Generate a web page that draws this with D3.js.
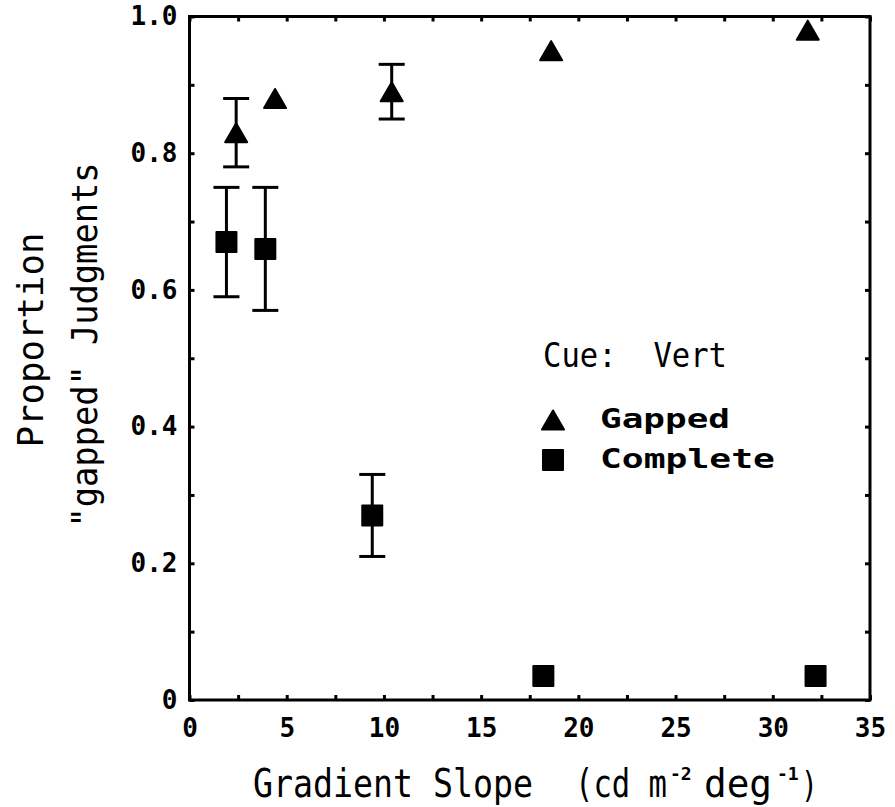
<!DOCTYPE html>
<html>
<head>
<meta charset="utf-8">
<script src="https://cdn.jsdelivr.net/npm/d3@7"></script>
<style>
  html, body { margin: 0; padding: 0; background: #fff; }
  svg { display: block; }
</style>
</head>
<body>
<svg id="chart" width="895" height="807"></svg>
<script>
// ---- data ----
const gappedX  = [2.4, 4.4, 10.4, 18.6, 31.8];
const gappedY  = [0.83, 0.88, 0.89, 0.95, 0.98];
const gappedLo = [0.78, null, 0.85, null, null];
const gappedHi = [0.88, null, 0.93, null, null];

const completeX  = [1.9, 3.9, 9.4, 18.2, 32.2];
const completeY  = [0.67, 0.66, 0.27, 0.035, 0.035];
const completeLo = [0.59, 0.57, 0.21, null, null];
const completeHi = [0.75, 0.75, 0.33, null, null];

const xTickLabels = [0, 5, 10, 15, 20, 25, 30, 35];
const yTickLabels = [0, 0.2, 0.4, 0.6, 0.8, 1.0];
const xMinorTicks = d3.range(0, 35.01, 2.5);
const yMinorTicks = d3.range(0, 1.001, 0.1);

const legendTitle = "Cue:  Vert";
const seriesNames = ["Gapped", "Complete"];

// ---- layout ----
const L = 189.5, R = 870, T = 16.5, B = 700;
const svg = d3.select("#chart");
const x = d3.scaleLinear().domain([0, 35]).range([L, R]);
const y = d3.scaleLinear().domain([0, 1]).range([B, T]);

const mono = "'DejaVu Sans Mono', 'Liberation Mono', monospace";
const tickLen = 5;

// inward ticks on all four sides
const gTicks = svg.append("g");
gTicks.append("g").attr("transform", `translate(0,${B})`)
  .call(d3.axisBottom(x).tickValues(xMinorTicks).tickSize(-tickLen).tickSizeOuter(0).tickFormat(""));
gTicks.append("g").attr("transform", `translate(0,${T})`)
  .call(d3.axisTop(x).tickValues(xMinorTicks).tickSize(-tickLen).tickSizeOuter(0).tickFormat(""));
gTicks.append("g").attr("transform", `translate(${L},0)`)
  .call(d3.axisLeft(y).tickValues(yMinorTicks).tickSize(-tickLen).tickSizeOuter(0).tickFormat(""));
gTicks.append("g").attr("transform", `translate(${R},0)`)
  .call(d3.axisRight(y).tickValues(yMinorTicks).tickSize(-tickLen).tickSizeOuter(0).tickFormat(""));
gTicks.selectAll(".domain").remove();
gTicks.selectAll(".tick line").attr("stroke", "#000").attr("stroke-width", 3);

// frame
svg.append("rect")
  .attr("x", L).attr("y", T).attr("width", R - L).attr("height", B - T)
  .attr("fill", "none").attr("stroke", "#000").attr("stroke-width", 3);

// tick labels
const xLab = svg.append("g").attr("transform", `translate(0,${B})`)
  .call(d3.axisBottom(x).tickValues(xTickLabels).tickSize(0).tickPadding(19).tickFormat(d3.format("d")));
xLab.select(".domain").remove();
xLab.selectAll("text").attr("font-family", mono).attr("font-weight", "bold")
  .attr("font-size", 26).attr("fill", "#000");

const yLab = svg.append("g").attr("transform", `translate(${L},0)`)
  .call(d3.axisLeft(y).tickValues(yTickLabels).tickSize(0).tickPadding(12)
    .tickFormat(d => d === 0 ? "0" : d3.format(".1f")(d)));
yLab.select(".domain").remove();
yLab.selectAll("text").attr("font-family", mono).attr("font-weight", "bold")
  .attr("font-size", 26).attr("fill", "#000");

// ---- marks ----
function errorBars(xs, ys, lo, hi) {
  const g = svg.append("g").attr("stroke", "#000").attr("stroke-width", 3).attr("fill", "none");
  xs.forEach((xv, i) => {
    if (lo[i] == null) return;
    const cx = x(xv), capW = 13;
    g.append("line").attr("x1", cx).attr("x2", cx).attr("y1", y(lo[i])).attr("y2", y(hi[i]));
    g.append("line").attr("x1", cx - capW).attr("x2", cx + capW).attr("y1", y(lo[i])).attr("y2", y(lo[i]));
    g.append("line").attr("x1", cx - capW).attr("x2", cx + capW).attr("y1", y(hi[i])).attr("y2", y(hi[i]));
  });
}
errorBars(gappedX, gappedY, gappedLo, gappedHi);
errorBars(completeX, completeY, completeLo, completeHi);

const triSize = 210;
const triPath = d3.symbol().type(d3.symbolTriangle).size(triSize)();
const triYoff = Math.sqrt(triSize / (3 * Math.sqrt(3))) / 2; // shift so bbox centre sits on value
const sqSize = 400;
const sqPath = d3.symbol().type(d3.symbolSquare).size(sqSize)();

svg.append("g").selectAll("path").data(gappedX.map((d, i) => [d, gappedY[i]]))
  .join("path")
  .attr("d", triPath)
  .attr("transform", d => `translate(${x(d[0])},${y(d[1]) + triYoff})`)
  .attr("fill", "#000").attr("stroke", "#000").attr("stroke-width", 2).attr("stroke-linejoin", "round");

svg.append("g").selectAll("path").data(completeX.map((d, i) => [d, completeY[i]]))
  .join("path")
  .attr("d", sqPath)
  .attr("transform", d => `translate(${x(d[0])},${y(d[1])})`)
  .attr("fill", "#000").attr("stroke", "#000").attr("stroke-width", 2).attr("stroke-linejoin", "round");

// ---- legend ----
svg.append("text")
  .attr("x", 543).attr("y", 367)
  .attr("font-family", mono).attr("font-size", 33).attr("fill", "#000")
  .attr("textLength", 184).attr("lengthAdjust", "spacingAndGlyphs")
  .style("white-space", "pre")
  .text(legendTitle);

const legendRows = [
  { name: seriesNames[0], path: triPath, off: triYoff, cy: 420, tw: 130 },
  { name: seriesNames[1], path: sqPath, off: 0, cy: 460, tw: 175 }
];
legendRows.forEach(r => {
  svg.append("path").attr("d", r.path)
    .attr("transform", `translate(553,${r.cy + r.off})`)
    .attr("fill", "#000").attr("stroke", "#000").attr("stroke-width", 2).attr("stroke-linejoin", "round");
  svg.append("text")
    .attr("x", 600).attr("y", r.cy + 8)
    .attr("font-family", mono).attr("font-weight", "bold").attr("font-size", 27).attr("fill", "#000")
    .attr("textLength", r.tw).attr("lengthAdjust", "spacingAndGlyphs")
    .text(r.name);
});

// ---- axis titles ----
// main parts: font size chosen so natural width matches, stretched vertically to the reference cap height
const capTarget = 28;
const xTitleParts = [
  { t: "Gradient Slope", x: 253, w: 280 },
  { t: "(cd m",          x: 575, w: 92 },
  { t: "deg",            x: 704, w: 68 }
];
xTitleParts.forEach(p => {
  const F = p.w / (0.602 * p.t.length);
  const sy = capTarget / (0.729 * F);
  svg.append("text")
    .attr("transform", `translate(${p.x},797) scale(1,${sy.toFixed(3)})`)
    .attr("font-family", mono).attr("font-size", F.toFixed(2)).attr("fill", "#000")
    .attr("textLength", p.w).attr("lengthAdjust", "spacingAndGlyphs")
    .text(p.t);
});
const supParts = [
  { t: "-2", x: 670 },
  { t: "-1", x: 777 }
];
supParts.forEach(p => {
  svg.append("text")
    .attr("x", p.x).attr("y", 780)
    .attr("font-family", mono).attr("font-size", 18).attr("font-weight", "bold").attr("fill", "#000")
    .text(p.t);
});
svg.append("text")
  .attr("transform", "translate(801,797) scale(1,1.25)")
  .attr("font-family", mono).attr("font-size", 28).attr("fill", "#000")
  .text(")");

svg.append("text")
  .attr("transform", "translate(43,340) rotate(-90)")
  .attr("text-anchor", "middle")
  .attr("font-family", mono).attr("font-size", 36).attr("fill", "#000")
  .attr("textLength", 215).attr("lengthAdjust", "spacingAndGlyphs")
  .text("Proportion");

svg.append("text")
  .attr("transform", "translate(97,345) rotate(-90)")
  .attr("text-anchor", "middle")
  .attr("font-family", mono).attr("font-size", 36).attr("fill", "#000")
  .attr("textLength", 365).attr("lengthAdjust", "spacingAndGlyphs")
  .style("white-space", "pre")
  .text("\"gapped\" Judgments");
</script>
</body>
</html>
